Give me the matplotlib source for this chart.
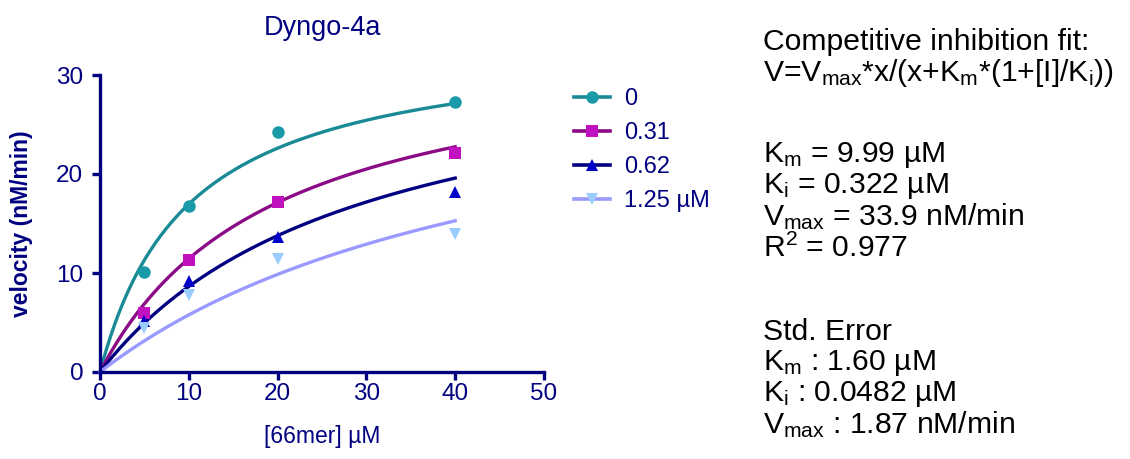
import numpy as np
import matplotlib
matplotlib.use('Agg')
import matplotlib.pyplot as plt
from matplotlib.lines import Line2D

plt.rcParams['font.family'] = ['Liberation Sans', 'DejaVu Sans']
plt.rcParams['mathtext.fontset'] = 'custom'
plt.rcParams['mathtext.rm'] = 'Liberation Sans'
plt.rcParams['mathtext.it'] = 'Liberation Sans'

# substrate concentrations (uM)
conc = [5, 10, 20, 40]
# inhibitor concentrations (uM)
inhib = [0, 0.31, 0.62, 1.25]
legend_labels = ['0', '0.31', '0.62', '1.25 µM']

# measured velocities (nM/min)
v_0 = [10.1, 16.8, 24.2, 27.3]
v_031 = [6.0, 11.3, 17.2, 22.1]
v_062 = [5.2, 9.2, 13.6, 18.2]
v_125 = [4.4, 7.8, 11.4, 13.9]

# fit parameters (competitive inhibition)
Vmax = 33.9
Km = 9.99
Ki = 0.322

navy = '#000080'
line_colors = ['#1a8a96', '#8b0a85', '#000080', '#9999ff']
marker_colors = ['#1a9aa8', '#c010c0', '#0000c8', '#99ccff']
markers = ['o', 's', '^', 'v']

W, H = 1130, 459
fig = plt.figure(figsize=(W / 100, H / 100), dpi=100)
ax = fig.add_axes([100/W, 1 - 372/H, 444/W, 297/H])

xfit = np.linspace(0, 40, 200)
handles = []
for I, v, lc, mc, m, lab in zip(inhib, [v_0, v_031, v_062, v_125],
                                line_colors, marker_colors, markers, legend_labels):
    yfit = Vmax * xfit / (xfit + Km * (1 + I / Ki))
    ax.plot(xfit, yfit, color=lc, lw=2.4, zorder=2, clip_on=False)
    ax.plot(conc, v, ls='none', marker=m, color=mc, ms=9, mew=0, zorder=3, clip_on=False)
    handles.append(Line2D([], [], color=lc, lw=2.6, marker=m, markerfacecolor=mc,
                          markeredgewidth=0, ms=9, label=lab))

ax.set_xlim(0, 50)
ax.set_ylim(0, 30)
ax.set_xticks([0, 10, 20, 30, 40, 50])
ax.set_yticks([0, 10, 20, 30])
for s in ['top', 'right']:
    ax.spines[s].set_visible(False)
for s in ['left', 'bottom']:
    ax.spines[s].set_color(navy)
    ax.spines[s].set_linewidth(2.4)
ax.tick_params(colors=navy, width=2.4, length=6, labelsize=17.5)
ax.tick_params(axis='x', pad=2)
ax.tick_params(axis='y', pad=6)

fig.text(322/W, 1 - 437/H, '[66mer] µM', color=navy, fontsize=16.5, ha='center', va='center')
fig.text(22/W, 1 - 224/H, 'velocity (nM/min)', color=navy, fontsize=16.5, fontweight='bold',
         rotation=90, ha='center', va='center')
fig.text(322/W, 1 - 28/H, 'Dyngo-4a', color=navy, fontsize=19.5, ha='center', va='center')

leg = fig.legend(handles=handles, loc='upper left', bbox_to_anchor=(565/W, 1 - 79/H),
                 frameon=False, fontsize=17, handlelength=1.5, handletextpad=0.6,
                 labelspacing=0.5, borderaxespad=0)
for t in leg.get_texts():
    t.set_color(navy)

info = [
    (42, 'Competitive inhibition fit:'),
    (73, r'V=V$_\mathrm{max}$*x/(x+K$_\mathrm{m}$*(1+[I]/K$_\mathrm{i}$))'),
    (155, r'K$_\mathrm{m}$ = 9.99 µM'),
    (186, r'K$_\mathrm{i}$ = 0.322 µM'),
    (217, r'V$_\mathrm{max}$ = 33.9 nM/min'),
    (248, r'R$^\mathrm{2}$ = 0.977'),
    (332, 'Std. Error'),
    (363, r'K$_\mathrm{m}$ : 1.60 µM'),
    (394, r'K$_\mathrm{i}$ : 0.0482 µM'),
    (425, r'V$_\mathrm{max}$ : 1.87 nM/min'),
]
for y, s in info:
    fig.text(763/W, 1 - y/H, s, fontsize=21.7, color='black', va='center', ha='left')

fig.savefig('out.png', dpi=100)
